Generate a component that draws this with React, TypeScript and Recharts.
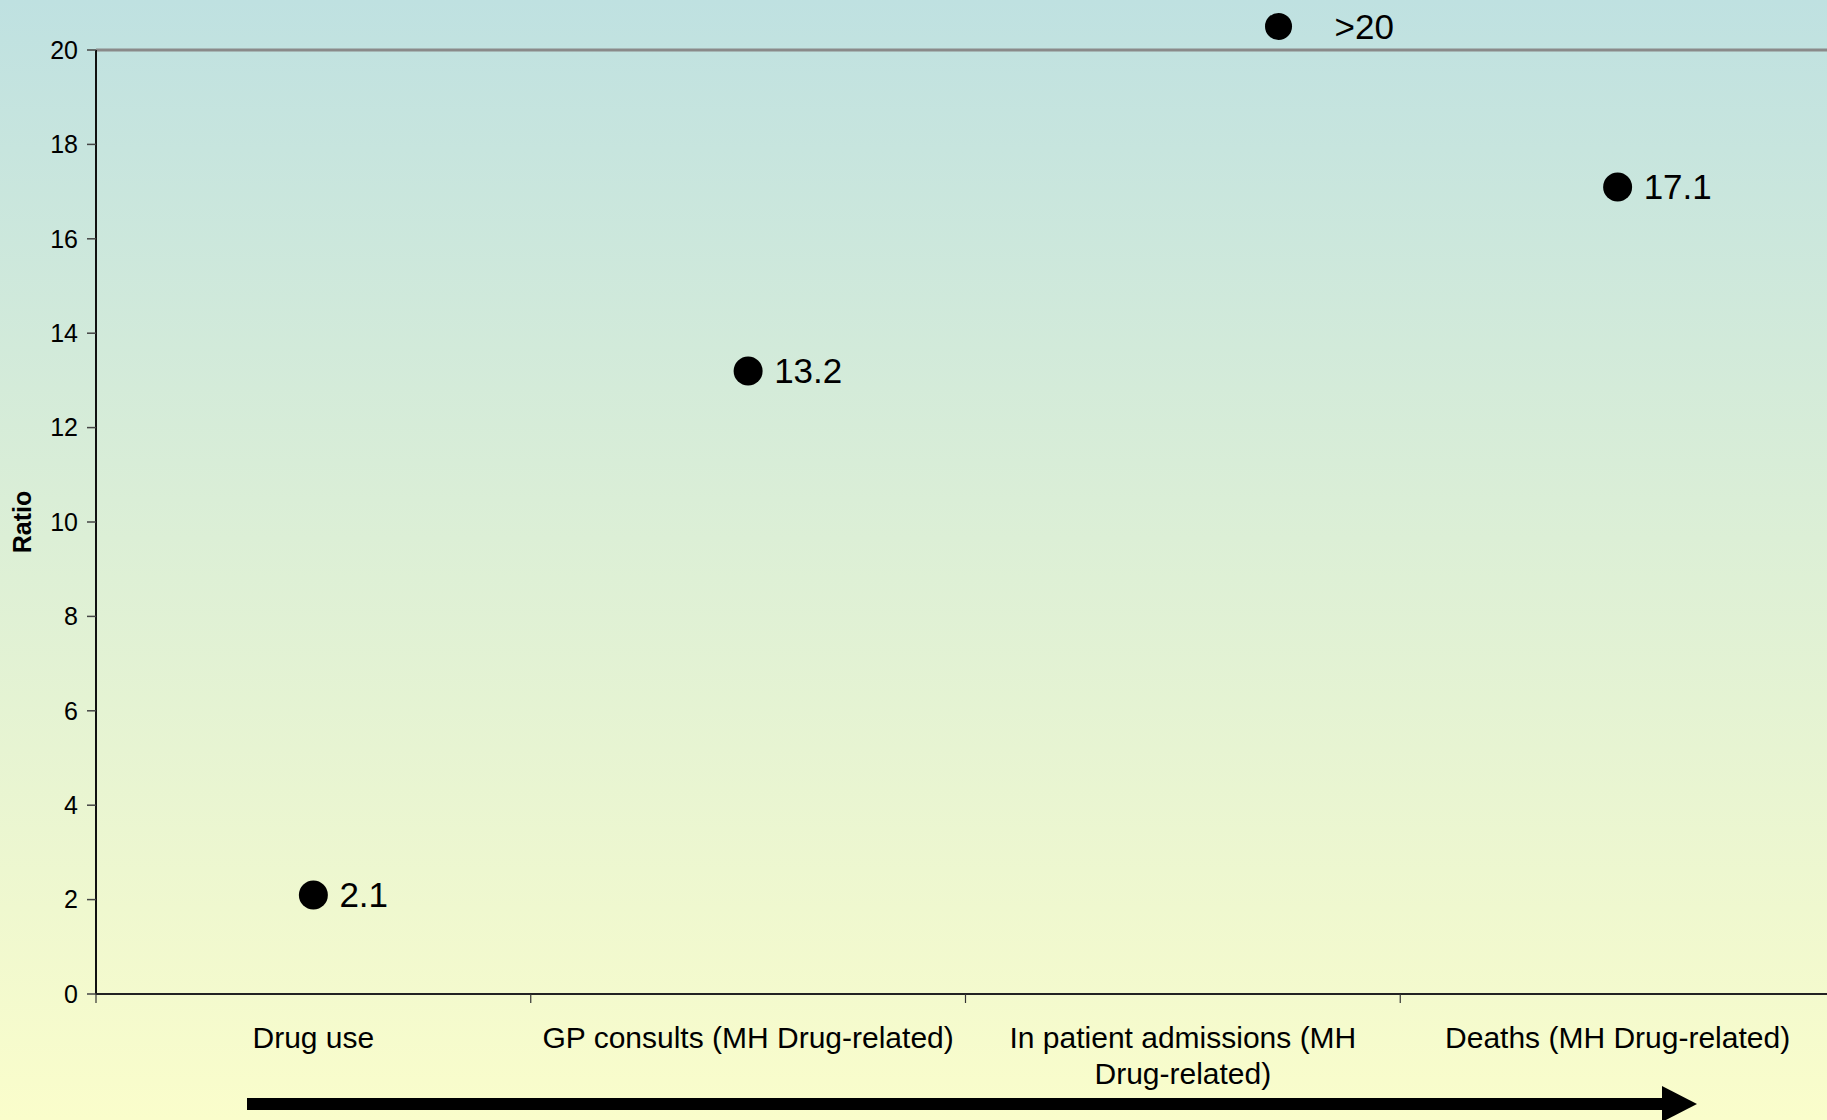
import React from 'react';
import { ScatterChart, Scatter, XAxis, YAxis, ReferenceLine, Label } from 'recharts';

// categories along the pathway
const categories = ['Drug use', 'GP consults (MH Drug-related)', 'In patient admissions (MH\nDrug-related)', 'Deaths (MH Drug-related)'];
// horizontal position of each dot, in category units (0..4)
const pointX = [0.5, 1.5, 2.72, 3.5];
const ratios = [2.1, 13.2, 20.5, 17.1];
const pointLabels = ['2.1', '13.2', '>20', '17.1'];
const yTicks = [0, 2, 4, 6, 8, 10, 12, 14, 16, 18, 20];
const xTicks = [0, 0.5, 1, 1.5, 2, 2.5, 3, 3.5, 4];

const FONT = '"Liberation Sans", Arial, Helvetica, sans-serif';

const data = pointX.map((x, i) => ({ x, y: ratios[i], label: pointLabels[i] }));

const XTick = ({ x, y, payload }: any) => {
  const v = payload.value as number;
  if (Number.isInteger(v)) {
    return <line x1={x} x2={x} y1={y} y2={y + 9} stroke="#333" strokeWidth={1.2} />;
  }
  const lines = categories[Math.floor(v)].split('\n');
  return (
    <text x={x} y={y + 54} textAnchor="middle" fontSize={30} fontFamily={FONT} fill="#000">
      {lines.map((l, i) => (
        <tspan key={i} x={x} dy={i === 0 ? 0 : 36}>{l}</tspan>
      ))}
    </text>
  );
};

const Dot = (props: any) => {
  const { cx, cy, payload } = props;
  const wide = payload.label.startsWith('>');
  return (
    <g>
      <circle cx={cx} cy={cy} r={wide ? 13.5 : 14.5} fill="#000" />
      <text x={cx + (wide ? 56 : 26)} y={cy + 12.5} fontSize={35} fontFamily={FONT} fill="#000">
        {payload.label}
      </text>
    </g>
  );
};

const App: React.FC = () => {
  return (
    <div
      style={{
        position: 'absolute',
        left: 0,
        top: 0,
        width: 1827,
        height: 1120,
        overflow: 'hidden',
        background: 'linear-gradient(to bottom, #bfe1e1 0%, #dcefd6 48%, #fafdcb 100%)',
      }}
    >
      <ScatterChart width={1850} height={1120} margin={{ top: 2.8, right: 15, left: 0, bottom: 0 }}>
        <XAxis
          type="number"
          dataKey="x"
          domain={[0, 4]}
          ticks={xTicks}
          interval={0}
          height={126}
          tickLine={false}
          tickSize={0}
          tickMargin={0}
          tick={<XTick />}
          axisLine={{ stroke: '#222', strokeWidth: 2 }}
        />
        <YAxis
          type="number"
          dataKey="y"
          domain={[0, 21]}
          ticks={yTicks}
          interval={0}
          width={96}
          axisLine={false}
          tickSize={9}
          tickMargin={9}
          tickLine={{ stroke: '#444', strokeWidth: 1.5 }}
          tick={{ fill: '#000', fontSize: 25, fontFamily: FONT }}
        >
          <Label
            content={() => (
              <text
                x={31}
                y={522}
                transform="rotate(-90 31 522)"
                textAnchor="middle"
                fontSize={25}
                fontWeight="bold"
                fontFamily={FONT}
                fill="#000"
              >
                Ratio
              </text>
            )}
          />
        </YAxis>
        <ReferenceLine y={20} stroke="#8a8a8a" strokeWidth={3} />
        <ReferenceLine segment={[{ x: 0, y: 0 }, { x: 0, y: 20 }]} stroke="#111" strokeWidth={2} />
        <Scatter data={data} shape={<Dot />} isAnimationActive={false} />
      </ScatterChart>
      <svg width={1827} height={1120} style={{ position: 'absolute', left: 0, top: 0, pointerEvents: 'none' }}>
        <rect x={247} y={1098} width={1416} height={12} fill="#000" />
        <polygon points="1662,1086 1697,1104 1662,1122" fill="#000" />
      </svg>
    </div>
  );
};

export default App;
